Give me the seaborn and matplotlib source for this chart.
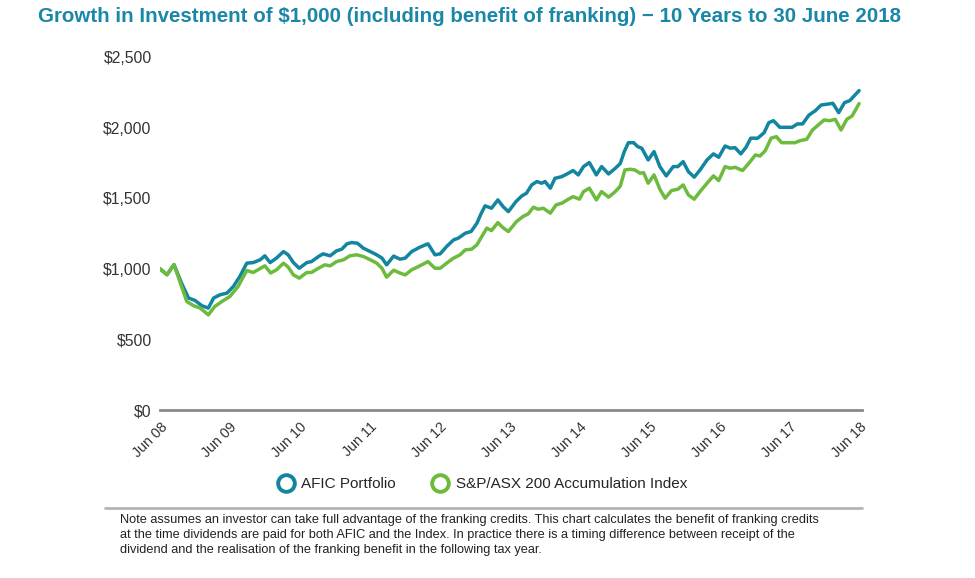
import matplotlib
matplotlib.use("Agg")
import pandas as pd
import matplotlib.pyplot as plt
import seaborn as sns
from matplotlib.lines import Line2D

# months after 30 June 2008
afic_month = [0, 1.2, 2.4, 3.7, 4.9, 6.0, 7.2, 8.3, 9.2, 10.3, 11.5, 12.6, 13.7, 14.9,
              16.0, 17.2, 18.0, 18.9, 20.0, 21.2, 22.0, 22.9, 23.9, 25.2, 26.0, 27.2,
              28.0, 29.2, 30.3, 31.2, 32.1, 32.9, 33.9, 34.9, 36.1, 37.2, 38.1, 38.9,
              40.1, 41.2, 42.1, 43.2, 44.6, 46.0, 47.2, 48.1, 49.2, 50.4, 51.2, 52.4,
              53.4, 54.4, 55.1, 55.8, 56.9, 58.0, 58.9, 59.8, 61.1, 62.1, 62.9, 63.8,
              64.7, 65.5, 66.1, 67.0, 67.8, 69.0, 70.1, 70.9, 71.8, 72.7, 73.7, 74.9,
              75.8, 77.0, 78.1, 79.0, 79.7, 80.4, 81.3, 82.0, 82.7, 83.8, 84.8, 85.8,
              86.9, 88.1, 88.9, 89.8, 90.7, 91.7, 92.7, 93.9, 95.0, 95.9, 97.0, 97.9,
              98.7, 99.7, 100.6, 101.4, 102.6, 103.7, 104.5, 105.3, 106.4, 107.5, 108.5,
              109.4, 110.3, 111.4, 112.5, 113.5, 114.7, 115.5, 116.5, 117.5, 118.4, 120]
afic_value = [1000, 958, 1030, 898, 793, 776, 738, 722, 793, 816, 828, 875, 946, 1040,
              1044, 1064, 1092, 1044, 1076, 1122, 1099, 1044, 1004, 1044, 1051, 1087,
              1106, 1092, 1127, 1139, 1177, 1186, 1181, 1146, 1122, 1099, 1076, 1028,
              1090, 1068, 1076, 1122, 1153, 1177, 1099, 1106, 1158, 1205, 1217, 1252,
              1264, 1323, 1389, 1446, 1429, 1488, 1440, 1405, 1476, 1516, 1535, 1594,
              1618, 1606, 1618, 1571, 1641, 1653, 1677, 1696, 1665, 1724, 1752, 1665,
              1724, 1672, 1710, 1745, 1830, 1893, 1893, 1865, 1854, 1771, 1830, 1724,
              1658, 1724, 1724, 1759, 1688, 1649, 1700, 1771, 1814, 1790, 1870, 1854,
              1858, 1814, 1861, 1925, 1925, 1964, 2035, 2049, 2002, 2002, 2002,
              2026, 2026, 2089, 2120, 2160, 2167, 2172, 2106, 2177, 2191, 2262]

index_month = [0, 1.2, 2.4, 3.7, 4.6, 5.8, 6.9, 8.3, 9.4, 10.6, 12.0, 13.4, 14.9, 16.0,
               18.0, 19.0, 20.0, 21.2, 22.0, 22.9, 23.9, 25.2, 26.0, 27.2, 28.3, 29.2,
               30.3, 31.5, 32.6, 33.8, 34.9, 36.1, 37.2, 38.1, 38.9, 40.1, 41.2, 42.1,
               43.2, 44.6, 46.0, 47.2, 48.1, 49.2, 50.4, 51.5, 52.4, 53.5, 54.4, 55.3,
               56.1, 56.9, 58.0, 58.9, 59.8, 61.2, 62.3, 63.2, 64.1, 64.9, 65.8, 67.0,
               68.0, 69.0, 70.1, 70.9, 72.0, 72.7, 73.7, 74.9, 75.8, 77.0, 78.1, 79.0,
               79.8, 80.7, 81.5, 82.4, 83.0, 83.8, 84.8, 85.8, 86.7, 87.8, 88.9, 89.8,
               90.7, 91.7, 92.7, 93.9, 95.0, 95.9, 97.0, 97.9, 98.7, 100.0, 101.3, 102.2,
               103.0, 103.9, 104.9, 105.8, 106.7, 108.2, 109.0, 109.9, 111.0, 112.0,
               113.0, 114.0, 115.0, 115.9, 116.9, 117.9, 118.8, 120]
index_value = [1000, 958, 1030, 875, 768, 738, 722, 674, 733, 768, 804, 875, 988, 974,
               1021, 970, 993, 1040, 1012, 957, 934, 974, 974, 1004, 1028, 1021,
               1051, 1064, 1092, 1099, 1087, 1064, 1040, 1004, 941, 990, 970, 957,
               993, 1021, 1051, 1004, 1004, 1040, 1076, 1099, 1134, 1139, 1170, 1233,
               1288, 1271, 1327, 1290, 1264, 1335, 1370, 1389, 1436, 1422, 1429, 1394,
               1453, 1465, 1493, 1511, 1493, 1547, 1571, 1488, 1547, 1507, 1545, 1585,
               1700, 1705, 1700, 1677, 1681, 1606, 1665, 1564, 1500, 1554, 1564, 1594,
               1523, 1493, 1547, 1606, 1658, 1625, 1724, 1712, 1719, 1696, 1759, 1806,
               1799, 1837, 1925, 1936, 1893, 1893, 1893, 1908, 1917, 1983,
               2019, 2054, 2049, 2059, 1983, 2059, 2082, 2170]

series_names = ["AFIC Portfolio", "S&P/ASX 200 Accumulation Index"]
tick_months = [0, 12, 24, 36, 48, 60, 72, 84, 96, 108, 120]
tick_labels = ["Jun 08", "Jun 09", "Jun 10", "Jun 11", "Jun 12", "Jun 13",
               "Jun 14", "Jun 15", "Jun 16", "Jun 17", "Jun 18"]
y_ticks = [0, 500, 1000, 1500, 2000, 2500]
y_labels = ["$0", "$500", "$1,000", "$1,500", "$2,000", "$2,500"]

df = pd.concat([
    pd.DataFrame({"month": afic_month, "value": afic_value, "series": series_names[0]}),
    pd.DataFrame({"month": index_month, "value": index_value, "series": series_names[1]}),
])

teal = "#12869f"
green = "#6dbb3c"
palette = {series_names[0]: teal, series_names[1]: green}

sns.set_style("white")
plt.rcParams["font.family"] = ["Liberation Sans", "DejaVu Sans"]

fig = plt.figure(figsize=(9.75, 5.78), dpi=100)
ax = fig.add_axes([160 / 975, 1 - 410 / 578, (862 - 160) / 975, (410 - 57) / 578])

sns.lineplot(data=df, x="month", y="value", hue="series", palette=palette,
             estimator=None, sort=False, linewidth=2.5, legend=False, ax=ax)

ax.set_xlim(0, 120.5)
ax.set_ylim(0, 2500)
ax.set_xticks(tick_months)
ax.set_xticklabels(tick_labels, rotation=45, ha="right", rotation_mode="anchor",
                   fontsize=10.3, color="#333333")
ax.set_yticks(y_ticks)
ax.set_yticklabels(y_labels, fontsize=11.3, color="#333333")
ax.tick_params(axis="x", length=0, pad=7)
ax.tick_params(axis="y", length=0, pad=6)
ax.set_xlabel("")
ax.set_ylabel("")
for side in ["top", "right", "left"]:
    ax.spines[side].set_visible(False)
ax.spines["bottom"].set_color("#8a8a8a")
ax.spines["bottom"].set_linewidth(2)
ax.grid(False)

fig.text(38 / 975, 1 - 16 / 578,
         "Growth in Investment of $1,000 (including benefit of franking) \u2212 10 Years to 30 June 2018",
         fontsize=14.8, fontweight="bold", color="#1a87a8", ha="left", va="center")

handles = [Line2D([], [], marker="o", linestyle="", markersize=12, markerfacecolor="white",
                  markeredgecolor=palette[name], markeredgewidth=2.8) for name in series_names]
fig.legend(handles, series_names, loc="center", bbox_to_anchor=(482 / 975, 1 - 484 / 578),
           ncol=2, frameon=False, fontsize=11, handletextpad=0.4, columnspacing=2.3,
           handlelength=1.2)

fig.add_artist(Line2D([105 / 975, 862 / 975], [1 - 508 / 578, 1 - 508 / 578],
                      color="#b4b4b4", linewidth=2))

note = ("Note assumes an investor can take full advantage of the franking credits. "
        "This chart calculates the benefit of franking credits\n"
        "at the time dividends are paid for both AFIC and the Index. In practice there is "
        "a timing difference between receipt of the\n"
        "dividend and the realisation of the franking benefit in the following tax year.")
fig.text(120 / 975, 1 - 514 / 578, note, fontsize=9.2, color="#222222",
         ha="left", va="top", linespacing=1.35)

fig.savefig("out.png", dpi=100)
